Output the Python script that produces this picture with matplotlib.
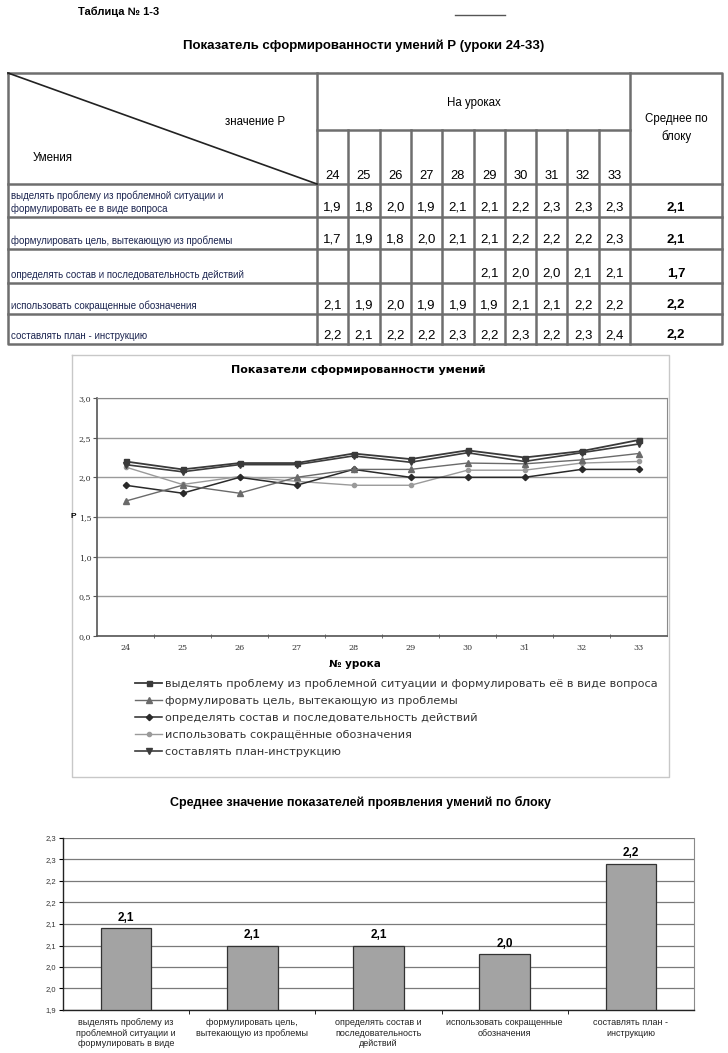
import numpy as np
import matplotlib
matplotlib.use('Agg')
import matplotlib.pyplot as plt
from matplotlib.ticker import FixedLocator

plt.rcParams['font.family'] = ['Liberation Sans', 'DejaVu Sans']

#------------------------------------------------------------------------------------
# table data
lessons = [24, 25, 26, 27, 28, 29, 30, 31, 32, 33]
table_skills = ['выделять проблему из проблемной ситуации и\nформулировать ее в виде вопроса',
                'формулировать цель, вытекающую из проблемы',
                'определять состав и последовательность действий',
                'использовать сокращенные обозначения',
                'составлять план - инструкцию']
row1 = [1.9, 1.8, 2.0, 1.9, 2.1, 2.1, 2.2, 2.3, 2.3, 2.3]
row2 = [1.7, 1.9, 1.8, 2.0, 2.1, 2.1, 2.2, 2.2, 2.2, 2.3]
row3 = [None, None, None, None, None, 2.1, 2.0, 2.0, 2.1, 2.1]
row4 = [2.1, 1.9, 2.0, 1.9, 1.9, 1.9, 2.1, 2.1, 2.2, 2.2]
row5 = [2.2, 2.1, 2.2, 2.2, 2.3, 2.2, 2.3, 2.2, 2.3, 2.4]
table_avg = [2.1, 2.1, 1.7, 2.2, 2.2]

# line chart data
legend_names = ['выделять проблему из проблемной ситуации и формулировать её в виде вопроса',
                'формулировать цель, вытекающую из проблемы',
                'определять состав и последовательность действий',
                'использовать сокращённые обозначения',
                'составлять план-инструкцию']
s1 = [2.20, 2.10, 2.18, 2.18, 2.30, 2.23, 2.34, 2.25, 2.33, 2.47]
s2 = [1.70, 1.90, 1.80, 2.00, 2.10, 2.10, 2.18, 2.17, 2.22, 2.30]
s3 = [1.90, 1.80, 2.00, 1.90, 2.10, 2.00, 2.00, 2.00, 2.10, 2.10]
s4 = [2.13, 1.91, 2.01, 1.95, 1.90, 1.90, 2.09, 2.09, 2.18, 2.20]
s5 = [2.16, 2.07, 2.16, 2.16, 2.27, 2.19, 2.31, 2.20, 2.31, 2.42]
line_yticks = [0.0, 0.5, 1.0, 1.5, 2.0, 2.5, 3.0]

# bar chart data
bar_cats = ['выделять проблему из\nпроблемной ситуации и\nформулировать в виде',
            'формулировать цель,\nвытекающую из проблемы',
            'определять состав и\nпоследовательность\nдействий',
            'использовать сокращенные\nобозначения',
            'составлять план -\nинструкцию']
bar_vals = [2.09, 2.05, 2.05, 2.03, 2.24]
bar_val_text = ['2,1', '2,1', '2,1', '2,0', '2,2']
bar_yticks = [1.9, 1.95, 2.0, 2.05, 2.1, 2.15, 2.2, 2.25, 2.3]
bar_ytick_text = ['1,9', '2,0', '2,0', '2,1', '2,1', '2,2', '2,2', '2,3', '2,3']

def fmt(v):
  return ('%.1f' % v).replace('.', ',')

NARROW = ['Liberation Sans Narrow', 'Liberation Sans', 'DejaVu Sans']
WIDE = ['DejaVu Sans']

W, H = 728, 1053
fig = plt.figure(figsize=(W/100, H/100), dpi=100)
fig.patch.set_facecolor('white')

# overlay axes in pixel coordinates
ax0 = fig.add_axes([0, 0, 1, 1])
ax0.set_xlim(0, W); ax0.set_ylim(H, 0); ax0.axis('off')

#------------------------------------------------------------------------------------
# table
ax0.plot([455, 505], [15, 15], color='#555555', lw=1)
ax0.text(78, 12, 'Таблица № 1-3', fontsize=8, fontweight='bold', va='center', ha='left')
ax0.text(364, 46, 'Показатель сформированности умений Р (уроки 24-33)', fontsize=9.5,
         fontweight='bold', va='center', ha='center')

tx0, tx1 = 8, 722
ty0, ty1 = 73, 344
col_first = 317
col_avg = 630
col_edges = np.linspace(col_first, col_avg, len(lessons)+1)
row_edges = [184, 217, 249, 283, 314, 344]
lc = '#6e6e6e'
lw = 1.8
ax0.plot([tx0, tx1, tx1, tx0, tx0], [ty0, ty0, ty1, ty1, ty0], color=lc, lw=lw)
for ry in row_edges[:-1]:
  ax0.plot([tx0, tx1], [ry, ry], color=lc, lw=lw)
ax0.plot([col_first, col_avg], [130, 130], color=lc, lw=lw)
ax0.plot([col_first, col_first], [ty0, ty1], color=lc, lw=lw)
ax0.plot([col_avg, col_avg], [ty0, ty1], color=lc, lw=lw)
for cx in col_edges[1:-1]:
  ax0.plot([cx, cx], [130, ty1], color=lc, lw=lw)
ax0.plot([tx0, col_first], [ty0, row_edges[0]], color='#222222', lw=1.2)

ax0.text(255, 122, 'значение Р', fontsize=8.3, ha='center', va='center')
ax0.text(33, 158, 'Умения', fontsize=8.3, ha='left', va='center')
ax0.text((col_first+col_avg)/2, 103, 'На уроках', fontsize=8.3, ha='center', va='center')
ax0.text(676, 128, 'Среднее по\nблоку', fontsize=8.3, ha='center', va='center', linespacing=1.5)
col_centers = (col_edges[:-1] + col_edges[1:]) / 2
for cx, les in zip(col_centers, lessons):
  ax0.text(cx, 176, str(les), fontsize=9.3, ha='center', va='center')

table_rows = [row1, row2, row3, row4, row5]
for i, (name, vals, avg) in enumerate(zip(table_skills, table_rows, table_avg)):
  yb = row_edges[i+1] - 9
  ax0.text(11, yb + 4, name, fontsize=7, ha='left', va='baseline', color='#1c2550',
           linespacing=1.35)
  for cx, v in zip(col_centers, vals):
    if v is not None:
      ax0.text(cx, yb, fmt(v), fontsize=9.5, ha='center', va='center')
  ax0.text(676, yb, fmt(avg), fontsize=9.5, ha='center', va='center', fontweight='bold')

#------------------------------------------------------------------------------------
# line chart
ax0.plot([72, 669, 669, 72, 72], [355, 355, 777, 777, 355], color='#c8c8c8', lw=1)
ax0.text(358, 370, 'Показатели сформированности умений', fontsize=8, fontweight='bold',
         ha='center', va='center', family=WIDE)

pl, pr, pt, pb = 97, 667, 398, 636
ax1 = fig.add_axes([pl/W, 1-pb/H, (pr-pl)/W, (pb-pt)/H])
x = np.arange(len(lessons))
ax1.plot(x, s4, color='#9a9a9a', marker='o', ms=3, lw=1.0, label=legend_names[3], zorder=3)
ax1.plot(x, s3, color='#2a2a2a', marker='D', ms=3.2, lw=1.1, label=legend_names[2], zorder=3)
ax1.plot(x, s2, color='#6a6a6a', marker='^', ms=4, lw=1.0, label=legend_names[1], zorder=3)
ax1.plot(x, s5, color='#3c3c3c', marker='v', ms=4, lw=1.2, label=legend_names[4], zorder=3)
ax1.plot(x, s1, color='#3a3a3a', marker='s', ms=3.6, lw=1.3, label=legend_names[0], zorder=3)
ax1.set_xlim(-0.5, len(lessons)-0.5)
ax1.set_ylim(0, 3.0)
ax1.set_yticks(line_yticks)
ax1.set_yticklabels([fmt(v) for v in line_yticks], fontsize=5.8, color='#333333',
                    family=['DejaVu Serif'])
ax1.set_xticks(x)
ax1.set_xticklabels([str(v) for v in lessons], fontsize=5.8, color='#333333',
                    family=['DejaVu Serif'])
ax1.xaxis.set_minor_locator(FixedLocator(np.arange(0.5, len(lessons)-0.5, 1)))
ax1.tick_params(axis='x', which='major', length=0, pad=6)
ax1.tick_params(axis='x', which='minor', length=3, direction='inout', color='#555555')
ax1.tick_params(axis='y', length=3, direction='out', color='#555555', pad=1)
ax1.grid(axis='y', color='#9a9a9a', lw=1.0)
ax1.set_axisbelow(True)
for sp in ['top', 'right']:
  ax1.spines[sp].set_color('#8a8a8a'); ax1.spines[sp].set_linewidth(0.8)
for sp in ['left', 'bottom']:
  ax1.spines[sp].set_color('#555555'); ax1.spines[sp].set_linewidth(1.2)
ax1.set_ylabel('Р', fontsize=6, fontweight='bold', rotation=0, labelpad=4, va='center')
ax0.text(355, 664, '№ урока', fontsize=7.5, fontweight='bold', ha='center', va='center',
         family=WIDE)

handles, labels = ax1.get_legend_handles_labels()
order = [4, 2, 1, 0, 3]
ax1.legend([handles[i] for i in order], [labels[i] for i in order], loc='upper left',
           bbox_to_anchor=(135/W, 1-679/H), bbox_transform=fig.transFigure, frameon=False,
           prop={'family': WIDE, 'size': 8.1}, handlelength=2.4, handletextpad=0.3,
           labelspacing=0.62, borderaxespad=0, borderpad=0, labelcolor='#333333')

#------------------------------------------------------------------------------------
# bar chart
ax0.text(360, 802, 'Среднее значение показателей проявления умений по блоку', fontsize=9,
         fontweight='bold', ha='center', va='center')

bl, br, bt, bb = 63, 694, 838, 1010
ax2 = fig.add_axes([bl/W, 1-bb/H, (br-bl)/W, (bb-bt)/H])
xb = np.arange(len(bar_cats))
ax2.bar(xb, [v - 1.9 for v in bar_vals], bottom=1.9, width=0.4, color='#a3a3a3',
        edgecolor='#333333', lw=0.9, zorder=3)
for xi, v, t in zip(xb, bar_vals, bar_val_text):
  ax2.text(xi, v + 0.01, t, ha='center', va='bottom', fontsize=8.5, fontweight='bold',
           family=NARROW)
ax2.set_xlim(-0.5, len(bar_cats)-0.5)
ax2.set_ylim(1.9, 2.3)
ax2.set_yticks(bar_yticks)
ax2.set_yticklabels(bar_ytick_text, fontsize=5.5, color='#333333', family=NARROW)
ax2.set_xticks(xb)
ax2.set_xticklabels(bar_cats, fontsize=6.5, color='#222222', va='top', linespacing=1.2,
                    family=NARROW)
ax2.xaxis.set_minor_locator(FixedLocator(np.arange(0.5, len(bar_cats)-0.5, 1)))
ax2.tick_params(axis='x', which='major', length=0, pad=6)
ax2.tick_params(axis='x', which='minor', length=3, direction='out')
ax2.tick_params(axis='y', length=3, direction='out', pad=2)
ax2.grid(axis='y', color='#7a7a7a', lw=0.9)
ax2.set_axisbelow(True)
ax2.spines['top'].set_visible(False)
ax2.spines['right'].set_color('#8a8a8a')
for sp in ['left', 'bottom']:
  ax2.spines[sp].set_color('#222222'); ax2.spines[sp].set_linewidth(1.0)

fig.savefig('out.png', dpi=100)
